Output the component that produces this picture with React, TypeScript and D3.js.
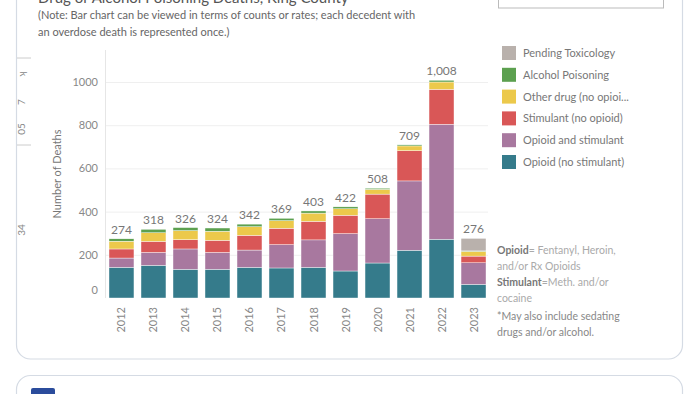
import React, { useEffect, useRef } from 'react';
import * as d3 from 'd3';

// data
const years = ['2012', '2013', '2014', '2015', '2016', '2017', '2018', '2019', '2020', '2021', '2022', '2023'];
const opioidOnly = [142, 151, 133, 133, 142, 139, 142, 125, 162, 221, 272, 63];
const opioidStim = [43, 60, 94, 78, 80, 108, 127, 173, 205, 321, 532, 100];
const stimOnly = [42, 51, 43, 56, 68, 76, 86, 85, 114, 140, 162, 31];
const otherDrug = [36, 40, 42, 42, 40, 35, 38, 30, 22, 22, 34, 22];
const alcohol = [11, 16, 14, 15, 12, 11, 10, 9, 5, 5, 8, 2];
const pending = [0, 0, 0, 0, 0, 0, 0, 0, 0, 0, 0, 58];
const totals = [274, 318, 326, 324, 342, 369, 403, 422, 508, 709, 1008, 276];

const seriesKeys = ['opioid', 'opioidStim', 'stim', 'other', 'alcohol', 'pending'];
const seriesColors = ['#357b8b', '#a8789f', '#d95757', '#ecc94b', '#5ca04f', '#b9b1ac'];
const legendLabels = [
  'Pending Toxicology',
  'Alcohol Poisoning',
  'Other drug (no opioi...',
  'Stimulant (no opioid)',
  'Opioid and stimulant',
  'Opioid (no stimulant)',
];
const legendColors = ['#b9b1ac', '#5ca04f', '#ecc94b', '#d95757', '#a8789f', '#357b8b'];
const yTicks = [0, 200, 400, 600, 800, 1000];

const FONT = 'Lato, "Open Sans", sans-serif';

const App = () => {
  const svgRef = useRef<SVGSVGElement>(null);

  useEffect(() => {
    const svg = d3.select(svgRef.current);
    svg.selectAll('*').remove();

    // cards
    svg.append('rect')
      .attr('x', 16.5).attr('y', -40).attr('width', 666).attr('height', 399)
      .attr('rx', 14).attr('fill', '#fff').attr('stroke', '#d5dbe4').attr('stroke-width', 1.2);
    svg.append('rect')
      .attr('x', 16.5).attr('y', 375.5).attr('width', 666).attr('height', 80)
      .attr('rx', 14).attr('fill', '#fff').attr('stroke', '#d5dbe4').attr('stroke-width', 1.2);
    svg.append('rect')
      .attr('x', 31).attr('y', 388).attr('width', 24).attr('height', 20).attr('rx', 2)
      .attr('fill', '#2b4c9c');

    // title (clipped at top) and note
    svg.append('text')
      .attr('x', 38).attr('y', 3)
      .attr('font-family', FONT).attr('font-size', 15).attr('fill', '#555')
      .text('Drug or Alcohol Poisoning Deaths, King County');
    const note = svg.append('text')
      .attr('font-family', FONT).attr('font-size', 11).attr('fill', '#666');
    note.append('tspan').attr('x', 38).attr('y', 19)
      .text('(Note: Bar chart can be viewed in terms of counts or rates; each decedent with');
    note.append('tspan').attr('x', 38).attr('y', 36)
      .text('an overdose death is represented once.)');

    // dropdown box (clipped)
    svg.append('rect')
      .attr('x', 498.5).attr('y', -20).attr('width', 165).attr('height', 28)
      .attr('fill', '#fff').attr('stroke', '#bbb');
    svg.append('text')
      .attr('x', 505).attr('y', -1)
      .attr('font-family', FONT).attr('font-size', 11).attr('fill', '#555')
      .text('Count');

    // clipped fragments of a neighbouring view at the far left
    const frags = [['ʞ', 74], ['7', 102], ['05', 129], ['34', 230]];
    frags.forEach(([t, yy]) => {
      svg.append('text')
        .attr('transform', `translate(25,${yy}) rotate(-90)`)
        .attr('text-anchor', 'middle')
        .attr('font-family', FONT).attr('font-size', 10).attr('fill', '#888')
        .text(t as string);
    });
    [58, 145].forEach((yy) => {
      svg.append('line').attr('x1', 17).attr('x2', 31).attr('y1', yy).attr('y2', yy)
        .attr('stroke', '#ccc');
    });

    const x = d3.scaleBand<string>()
      .domain(years)
      .range([105, 490])
      .paddingInner(0.22)
      .paddingOuter(0.125);

    const y = d3.scaleLinear()
      .domain([0, 1150])
      .range([298, 49.6]);

    // gridlines
    svg.append('g')
      .selectAll('line')
      .data(yTicks.filter((d) => d > 0))
      .join('line')
      .attr('x1', 105).attr('x2', 488)
      .attr('y1', (d) => y(d) + 0.5).attr('y2', (d) => y(d) + 0.5)
      .attr('stroke', '#efefef');

    // axis line
    svg.append('line')
      .attr('x1', 105.5).attr('x2', 105.5).attr('y1', 50).attr('y2', 298)
      .attr('stroke', '#e6e6e6');

    // y tick labels
    svg.append('g')
      .selectAll('text')
      .data(yTicks)
      .join('text')
      .attr('x', 98)
      .attr('y', (d) => (d === 0 ? y(d) - 4 : y(d) + 4))
      .attr('text-anchor', 'end')
      .attr('font-family', FONT).attr('font-size', 11).attr('fill', '#888')
      .text((d) => d);

    svg.append('text')
      .attr('transform', 'translate(61,174) rotate(-90)')
      .attr('text-anchor', 'middle')
      .attr('font-family', FONT).attr('font-size', 11).attr('fill', '#777')
      .text('Number of Deaths');

    // stacked bars
    const table = years.map((yr, i) => ({
      year: yr,
      opioid: opioidOnly[i],
      opioidStim: opioidStim[i],
      stim: stimOnly[i],
      other: otherDrug[i],
      alcohol: alcohol[i],
      pending: pending[i],
    }));
    const stack = d3.stack<any>().keys(seriesKeys);
    const layers = stack(table);

    svg.append('g')
      .selectAll('g')
      .data(layers)
      .join('g')
      .attr('fill', (d, i) => seriesColors[i])
      .selectAll('rect')
      .data((d) => d)
      .join('rect')
      .attr('x', (d) => x(d.data.year)!)
      .attr('width', x.bandwidth())
      .attr('y', (d) => y(d[1]))
      .attr('height', (d) => Math.max(0, y(d[0]) - y(d[1])))
      .attr('stroke', '#fff')
      .attr('stroke-width', 0.4);

    // totals
    svg.append('g')
      .selectAll('text')
      .data(totals)
      .join('text')
      .attr('x', (d, i) => x(years[i])! + x.bandwidth() / 2)
      .attr('y', (d) => y(d) - 5)
      .attr('text-anchor', 'middle')
      .attr('font-family', FONT).attr('font-size', 12).attr('fill', '#777')
      .text((d) => d3.format(',')(d));

    // x labels
    svg.append('g')
      .selectAll('text')
      .data(years)
      .join('text')
      .attr('transform', (d) => `translate(${x(d)! + x.bandwidth() / 2 + 4},307) rotate(-90)`)
      .attr('text-anchor', 'end')
      .attr('font-family', FONT).attr('font-size', 11).attr('fill', '#888')
      .text((d) => d);

    // legend
    const lg = svg.append('g').attr('transform', 'translate(502,46)');
    legendLabels.forEach((lab, i) => {
      lg.append('rect')
        .attr('x', 0).attr('y', i * 21.8)
        .attr('width', 14).attr('height', 14)
        .attr('fill', legendColors[i]);
      lg.append('text')
        .attr('x', 21).attr('y', i * 21.8 + 11)
        .attr('font-family', FONT).attr('font-size', 11).attr('fill', '#777')
        .text(lab);
    });

    // definitions
    const defs = svg.append('text')
      .attr('font-family', FONT).attr('font-size', 10.5).attr('fill', '#aaa');
    const l1 = defs.append('tspan').attr('x', 497).attr('y', 254);
    l1.append('tspan').attr('font-weight', 'bold').attr('fill', '#777').text('Opioid');
    l1.append('tspan').text('= Fentanyl, Heroin,');
    defs.append('tspan').attr('x', 497).attr('y', 270).text('and/or Rx Opioids');
    const l3 = defs.append('tspan').attr('x', 497).attr('y', 286);
    l3.append('tspan').attr('font-weight', 'bold').attr('fill', '#777').text('Stimulant');
    l3.append('tspan').text('=Meth. and/or');
    defs.append('tspan').attr('x', 497).attr('y', 302).text('cocaine');
    defs.append('tspan').attr('x', 497).attr('y', 320).attr('fill', '#888').text('*May also include sedating');
    defs.append('tspan').attr('x', 497).attr('y', 336).attr('fill', '#888').text('drugs and/or alcohol.');
  }, []);

  return (
    <svg
      ref={svgRef}
      width={700}
      height={394}
      style={{ position: 'fixed', left: 0, top: 0, background: '#fff' }}
    />
  );
};

export default App;
